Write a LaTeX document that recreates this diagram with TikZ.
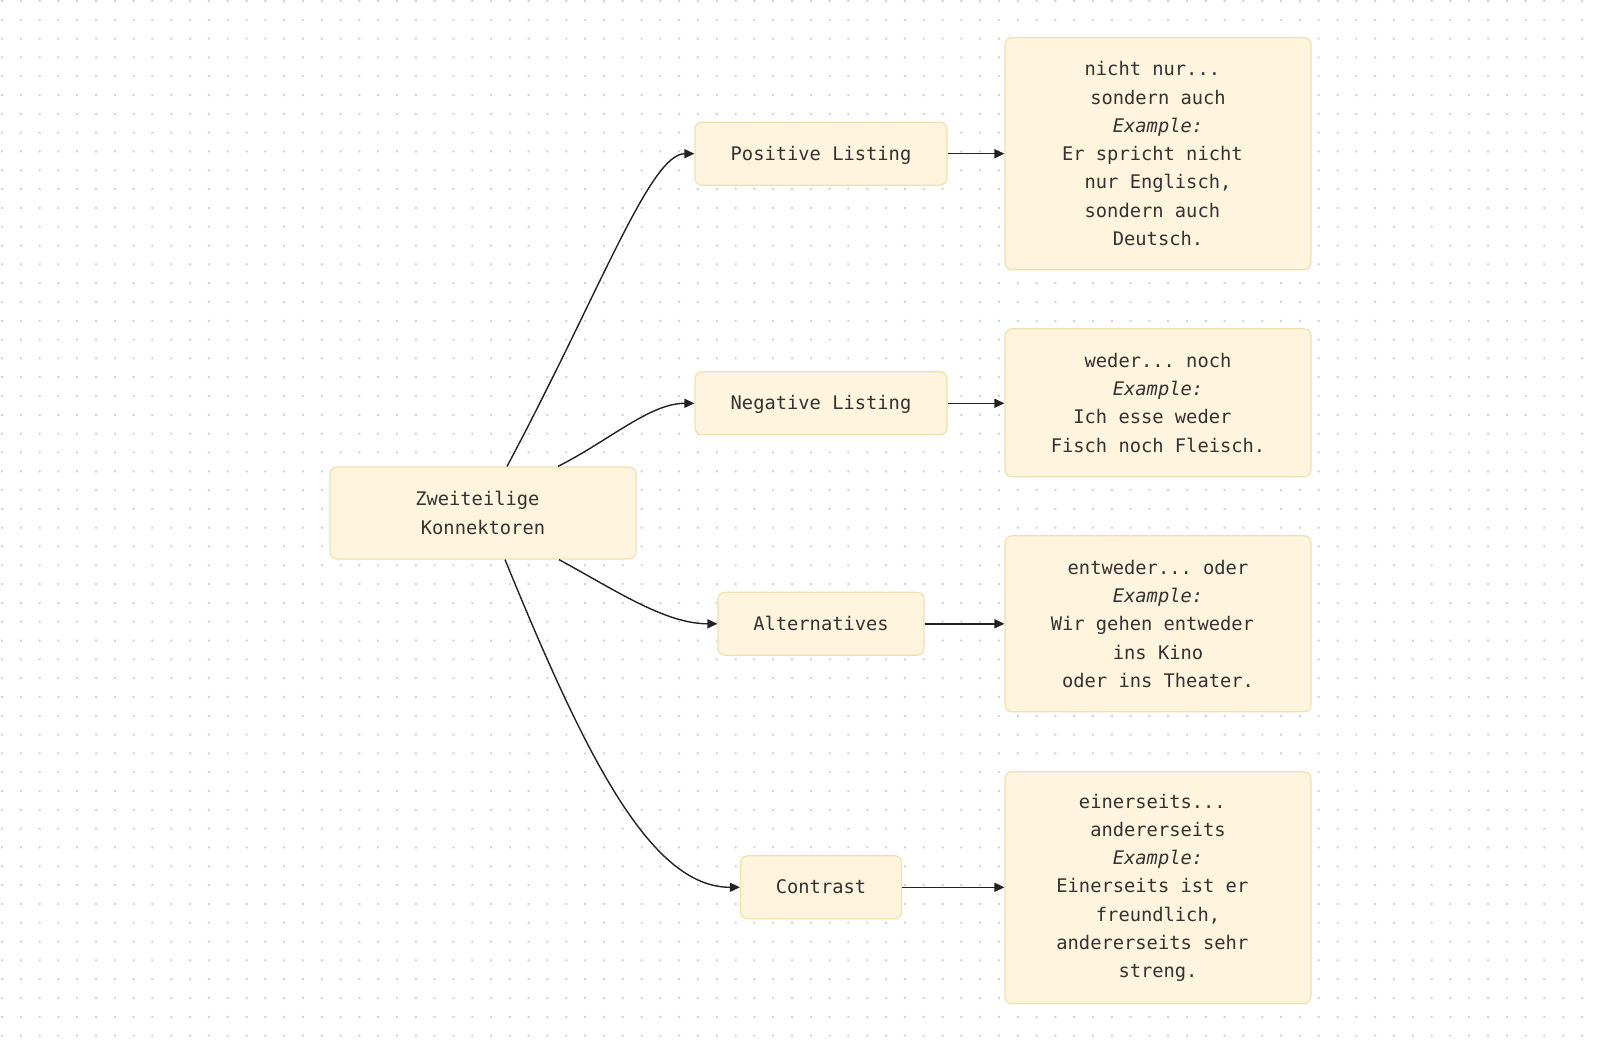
\documentclass[tikz,border=0pt]{standalone}
\usepackage{fontspec}
\setmonofont{DejaVu Sans Mono}
\usetikzlibrary{arrows.meta}
\definecolor{boxfill}{HTML}{FFF4DD}
\definecolor{boxline}{HTML}{F0E0B0}
\definecolor{txt}{HTML}{333333}
\definecolor{dotc}{HTML}{C9D4E6}
\definecolor{edgec}{HTML}{222222}
\newcommand\tsp{\hphantom{x}}
\tikzset{
  box/.style={draw=boxline, fill=boxfill, line width=1.2pt, rounded corners=7pt,
    align=center, font=\ttfamily\fontsize{18.75}{28.25}\selectfont, text=txt, inner sep=0pt},
  onebox/.style={box, text height=17.4pt, text depth=4.4pt},
  conn/.style={draw=edgec, line width=1.4pt, -{Triangle[length=10pt,width=9pt]}}
}
\begin{document}
\begin{tikzpicture}[x=1pt,y=-1pt]
\useasboundingbox (0,0) rectangle (1600,1039);
\fill[white] (0,0) rectangle (1600,1039);
\foreach \i in {0,...,84}{
  \fill[dotc] \foreach \j in {0,...,55}{(1+\i*18.81,0+\j*18.81) rectangle ++(2,2)};
}

\node[box, minimum width=306pt, minimum height=92pt] (z) at (483,513) {Zweiteilige\tsp\\Konnektoren};
\node[onebox, minimum width=252pt, minimum height=63pt] (pos) at (821,153.7) {Positive Listing};
\node[onebox, minimum width=252pt, minimum height=63pt] (neg) at (821,403.3) {Negative Listing};
\node[onebox, minimum width=206pt, minimum height=63pt] (alt) at (821,623.8) {Alternatives};
\node[onebox, minimum width=161pt, minimum height=63pt] (con) at (821,887.3) {Contrast};

\node[box, minimum width=306pt, minimum height=232pt] (d1) at (1158,153.7)
  {nicht nur...\tsp\\sondern auch\\\textit{Example:}\\Er spricht nicht\tsp\\nur Englisch,\\sondern auch\tsp\\Deutsch.};
\node[box, minimum width=306pt, minimum height=148pt] (d2) at (1158,402.8)
  {weder... noch\\\textit{Example:}\\Ich esse weder\tsp\\Fisch noch Fleisch.};
\node[box, minimum width=306pt, minimum height=176pt] (d3) at (1158,623.8)
  {entweder... oder\\\textit{Example:}\\Wir gehen entweder\tsp\\ins Kino\\oder ins Theater.};
\node[box, minimum width=306pt, minimum height=232pt] (d4) at (1158,887.7)
  {einerseits...\tsp\\andererseits\\\textit{Example:}\\Einerseits ist er\tsp\\freundlich,\\andererseits sehr\tsp\\streng.};

\draw[conn] ([xshift=24pt]z.north) .. controls (600,292) and (650,153.7) .. (pos.west);
\draw[conn] ([xshift=75pt]z.north) .. controls (610,440) and (650,403.3) .. (neg.west);
\draw[conn] ([xshift=76pt]z.south) .. controls (615,590) and (665,623.8) .. (alt.west);
\draw[conn] ([xshift=22pt]z.south) .. controls (585,755) and (650,887.3) .. (con.west);

\draw[conn] (pos.east) -- (pos.east -| d1.west);
\draw[conn] (neg.east) -- (neg.east -| d2.west);
\draw[conn] (alt.east) -- (alt.east -| d3.west);
\draw[conn] (con.east) -- (con.east -| d4.west);
\end{tikzpicture}
\end{document}
